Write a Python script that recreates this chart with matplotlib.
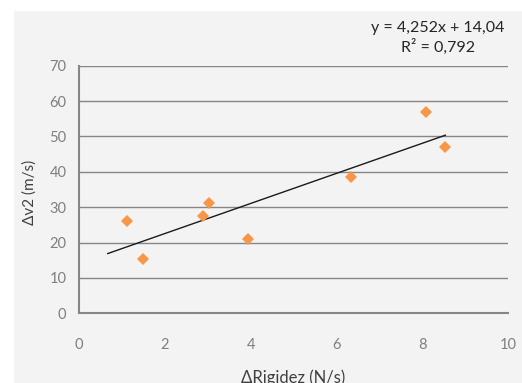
import numpy as np
import matplotlib.pyplot as plt
from matplotlib.patches import Rectangle

# valores
rigidez = [1.13, 1.50, 2.88, 3.04, 3.94, 6.33, 8.10, 8.54]
v2 = [26.1, 15.3, 27.5, 31.2, 21.1, 38.5, 56.8, 47.1]
a, b = 4.252, 14.04
x_trend = [0.67, 8.54]
x_ticks = [0, 2, 4, 6, 8, 10]
y_ticks = [0, 10, 20, 30, 40, 50, 60, 70]

plt.rcParams['font.family'] = ['Lato', 'DejaVu Sans']

W, H = 522, 383
fig = plt.figure(figsize=(W / 100, H / 100), dpi=100)
fig.patch.set_facecolor('white')
bg = '#f3f3f3'
fig.patches.append(Rectangle((14 / W, 0), 1, 1 - 11 / H, transform=fig.transFigure,
                             facecolor=bg, edgecolor='none', zorder=-1))

ax = fig.add_axes([79 / W, 1 - 313.3 / H, (508 - 79) / W, (313.3 - 65.7) / H])
ax.set_facecolor(bg)
ax.set_xlim(0, 10)
ax.set_ylim(0, 70)
ax.set_xticks(x_ticks)
ax.set_yticks(y_ticks)
ax.grid(axis='y', color='#868686', linewidth=1)
ax.set_axisbelow(True)
for s in ['top', 'right']:
    ax.spines[s].set_visible(False)
for s in ['left', 'bottom']:
    ax.spines[s].set_color('#868686')
    ax.spines[s].set_linewidth(1.5)
ax.tick_params(length=0, colors='#7f7f7f', labelsize=10.5)
ax.tick_params(axis='x', pad=18)
ax.tick_params(axis='y', pad=9)

xt = np.array(x_trend)
ax.plot(xt, a * xt + b, color='#1a1a1a', linewidth=1, zorder=2)
ax.plot(rigidez, v2, 'D', color='#f79646', markersize=6.3, markeredgewidth=0, zorder=3)

fig.text(30 / W, 1 - 192 / H, 'Δv2 (m/s)', rotation=90, ha='center', va='center',
         color='#404040', fontsize=11)
fig.text(293 / W, 1 - 378 / H, 'ΔRigidez (N/s)', ha='center', va='center',
         color='#404040', fontsize=12)
fig.text(438 / W, 1 - 38 / H, 'y = 4,252x + 14,04\nR² = 0,792', ha='center', va='center',
         color='#262626', fontsize=11.5, linespacing=1.25)

fig.savefig('out.png', dpi=100)
